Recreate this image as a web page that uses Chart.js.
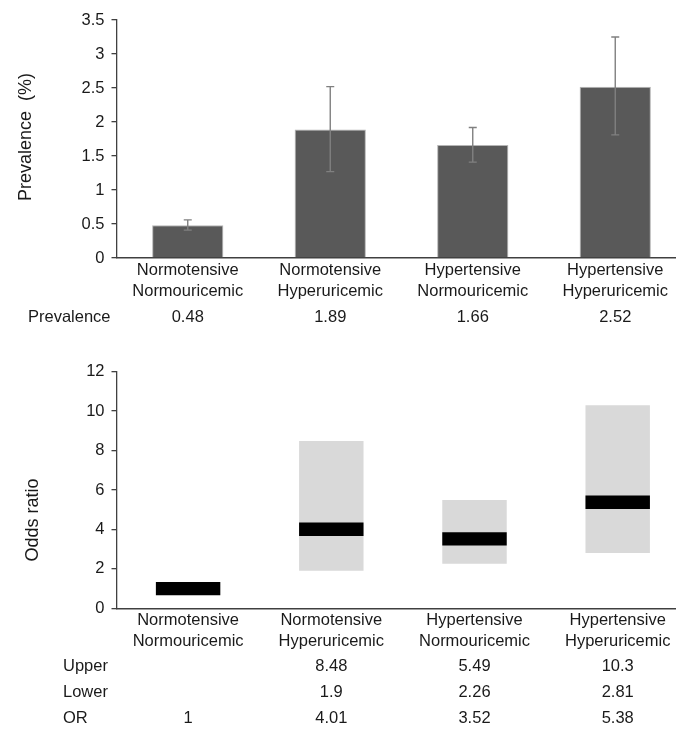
<!DOCTYPE html>
<html>
<head>
<meta charset="utf-8">
<script src="https://cdn.jsdelivr.net/npm/chart.js@4.4.1/dist/chart.umd.min.js"></script>
<style>
  html, body { margin: 0; padding: 0; background: #fff; overflow: hidden; width: 676px; height: 729px; }
  .box { position: absolute; left: 0; width: 700px; }
  #top { top: 0; height: 335px; }
  #bottom { top: 335px; height: 394px; }
</style>
</head>
<body>
<div class="box" id="top"><canvas id="prevChart"></canvas></div>
<div class="box" id="bottom"><canvas id="orChart"></canvas></div>
<script>
// data
const categories = [
  ["Normotensive", "Normouricemic"],
  ["Normotensive", "Hyperuricemic"],
  ["Hypertensive", "Normouricemic"],
  ["Hypertensive", "Hyperuricemic"]
];
const prevalence = [0.48, 1.89, 1.66, 2.52];
const prevLower = [0.41, 1.27, 1.41, 1.81];
const prevUpper = [0.56, 2.52, 1.92, 3.25];
const prevTicks = [0, 0.5, 1, 1.5, 2, 2.5, 3, 3.5];

const orValues = [1, 4.01, 3.52, 5.38];
const orLower = [null, 1.9, 2.26, 2.81];
const orUpper = [null, 8.48, 5.49, 10.3];
const orTicks = [0, 2, 4, 6, 8, 10, 12];

const axisColor = "#404040";
const textColor = "#1a1a1a";
const orHalf = 0.34; // half thickness of the black OR mark, in axis units

Chart.defaults.font.family = "'Liberation Sans', Arial, sans-serif";
Chart.defaults.font.size = 16.5;
Chart.defaults.color = textColor;

// error bars for the prevalence chart
const errorBars = {
  id: "errorBars",
  afterDatasetsDraw(chart) {
    const ctx = chart.ctx;
    const y = chart.scales.y;
    const meta = chart.getDatasetMeta(0);
    ctx.save();
    ctx.strokeStyle = "#808080";
    ctx.lineWidth = 1.4;
    meta.data.forEach(function (bar, i) {
      var hi = y.getPixelForValue(prevUpper[i]);
      var lo = y.getPixelForValue(prevLower[i]);
      ctx.beginPath();
      ctx.moveTo(bar.x, lo);
      ctx.lineTo(bar.x, hi);
      ctx.moveTo(bar.x - 4, hi);
      ctx.lineTo(bar.x + 4, hi);
      ctx.moveTo(bar.x - 4, lo);
      ctx.lineTo(bar.x + 4, lo);
      ctx.stroke();
    });
    ctx.restore();
  }
};

// value table under the x axis + rotated y title
const tableRows = {
  id: "tableRows",
  afterDraw(chart, args, opts) {
    const ctx = chart.ctx;
    const x = chart.scales.x;
    ctx.save();
    ctx.fillStyle = textColor;
    ctx.font = "16.5px 'Liberation Sans', Arial, sans-serif";
    ctx.textBaseline = "middle";
    opts.rows.forEach(function (row) {
      ctx.textAlign = "left";
      ctx.fillText(row.label, row.labelX, row.y);
      ctx.textAlign = "center";
      row.values.forEach(function (v, i) {
        if (v === null) return;
        ctx.fillText(String(v), x.getPixelForValue(i), row.y);
      });
    });
    const a = chart.chartArea;
    ctx.font = "18px 'Liberation Sans', Arial, sans-serif";
    ctx.translate(opts.titleX, (a.top + a.bottom) / 2 + opts.titleShift);
    ctx.rotate(-Math.PI / 2);
    ctx.textAlign = "center";
    ctx.fillText(opts.title, 0, 0);
    ctx.restore();
  }
};

function xAxis(height) {
  return {
    grid: { display: false, drawTicks: false },
    border: { display: true, color: axisColor, width: 1.5 },
    ticks: { padding: 2, autoSkip: false, maxRotation: 0, font: { lineHeight: 1.27 } },
    afterFit: function (s) { s.height = height; }
  };
}

function yAxis(min, max, tickList) {
  return {
    min: min,
    max: max,
    grid: { drawOnChartArea: false, drawTicks: true, tickLength: 5, color: axisColor, lineWidth: 1.3 },
    border: { display: true, color: axisColor, width: 1.3 },
    ticks: { padding: 7, callback: function (v) { return String(v); } },
    afterBuildTicks: function (s) { s.ticks = tickList.map(function (v) { return { value: v }; }); },
    afterFit: function (s) { s.width = 116.5; }
  };
}

new Chart(document.getElementById("prevChart"), {
  type: "bar",
  data: {
    labels: categories,
    datasets: [{
      label: "Prevalence",
      data: prevalence,
      backgroundColor: "#595959",
      borderColor: "#b5b5b5",
      borderWidth: 1,
      barPercentage: 0.5,
      categoryPercentage: 1
    }]
  },
  options: {
    responsive: true,
    maintainAspectRatio: false,
    animation: false,
    layout: { padding: { top: 20, right: 13.5, bottom: 0, left: 0 } },
    plugins: {
      legend: { display: false },
      tooltip: { enabled: false },
      tableRows: {
        title: "Prevalence  (%)", titleX: 26, titleShift: -2,
        rows: [{ label: "Prevalence", labelX: 28, y: 317, values: prevalence }]
      }
    },
    scales: { x: xAxis(77), y: yAxis(0, 3.5, prevTicks) }
  },
  plugins: [errorBars, tableRows]
});

new Chart(document.getElementById("orChart"), {
  type: "bar",
  data: {
    labels: categories,
    datasets: [
      {
        label: "OR",
        data: orValues.map(function (v) { return [v - orHalf, v + orHalf]; }),
        backgroundColor: "#000000",
        grouped: false,
        order: 0,
        barPercentage: 0.45,
        categoryPercentage: 1
      },
      {
        label: "95% CI",
        data: orLower.map(function (lo, i) { return lo === null ? null : [lo, orUpper[i]]; }),
        backgroundColor: "#d9d9d9",
        grouped: false,
        order: 1,
        barPercentage: 0.45,
        categoryPercentage: 1
      }
    ]
  },
  options: {
    responsive: true,
    maintainAspectRatio: false,
    animation: false,
    layout: { padding: { top: 36.7, right: 10.7, bottom: 0, left: 0 } },
    plugins: {
      legend: { display: false },
      tooltip: { enabled: false },
      tableRows: {
        title: "Odds ratio", titleX: 33, titleShift: 30,
        rows: [
          { label: "Upper", labelX: 63, y: 331, values: orUpper },
          { label: "Lower", labelX: 63, y: 357.7, values: orLower },
          { label: "OR", labelX: 63, y: 383.3, values: orValues }
        ]
      }
    },
    scales: { x: xAxis(120.7), y: yAxis(0, 12, orTicks) }
  },
  plugins: [tableRows]
});
</script>
</body>
</html>
